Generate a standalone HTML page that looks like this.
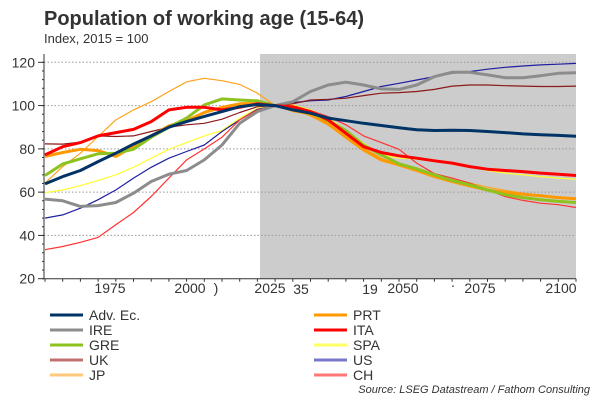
<!DOCTYPE html>
<html><head><meta charset="utf-8"><style>
body{margin:0;background:#fff;font-family:"Liberation Sans",sans-serif;}
#wrap{position:relative;width:600px;height:400px;overflow:hidden;}
</style></head><body>
<div id="wrap">
<svg id="svg" width="600" height="400" xmlns="http://www.w3.org/2000/svg">
<text x="44" y="25" font-size="20" font-weight="bold" fill="#333" font-family="Liberation Sans, sans-serif">Population of working age (15-64)</text>
<text x="44" y="43" font-size="13" fill="#333" font-family="Liberation Sans, sans-serif">Index, 2015 = 100</text>
<g id="plot"></g>
<g font-size="14" fill="#333" font-family="Liberation Sans, sans-serif" text-anchor="middle">
<text x="216" y="293">)</text>
<text x="301" y="294">35</text>
<text x="370" y="294">19</text>
<text x="453" y="290">·</text>
</g>
<text x="590" y="393" font-size="11" font-style="italic" fill="#333" text-anchor="end" font-family="Liberation Sans, sans-serif">Source: LSEG Datastream / Fathom Consulting</text>
</svg>
</div>
<script>
const years = [1950,1955,1960,1965,1970,1975,1980,1985,1990,1995,2000,2005,2010,2015,2020,2025,2030,2035,2040,2045,2050,2055,2060,2065,2070,2075,2080,2085,2090,2095,2100];
const yTicks = [20,40,60,80,100,120];
const xTickLabels = ["1975","2000","2025","2050","2075","2100"];
const xTickLabelPos = [110,190,270,403,480,561];
const advEc = [63.8,67.2,70,74.1,78,82.2,86,90,92.6,95,97.2,99.5,100.5,100,98,96.5,94.2,93,91.8,90.8,89.8,88.8,88.5,88.6,88.5,88,87.5,86.9,86.5,86.2,85.8];
const ire = [56.8,56,53.4,53.8,55.2,59.5,64.9,68.3,70,74.9,81.8,91.8,97.2,100,101.8,106.5,109.5,110.8,109.5,107.7,107.5,109.5,113.4,115.4,115.4,114.2,112.9,112.9,113.8,114.9,115.2];
const gre = [67.7,73,75.4,77.7,78,79.8,85.4,90,94.2,100.3,103.1,102.6,102.2,100,99.2,96.8,93,88.5,81.8,77.2,73.1,70.8,68,65.4,63.4,61,58.8,57.5,56.5,55.7,55.2];
const uk = [82.3,82.2,83.1,86,85.7,86,88,90,91.1,91.8,93.7,96.8,99.5,100,100.8,102.6,102.9,103.4,104.6,105.7,106,106.5,107.5,109,109.5,109.5,109.2,109,108.8,108.8,109];
const jp = [64.2,71.8,78,85.7,93.4,98,101.8,106.5,111,112.6,111.5,109.8,105.7,100,97.2,95.7,92.6,87.2,80.3,75.7,72.6,70,68,65.7,64.2,62.3,60.8,59.5,58.5,57.5,56.8];
const prt = [76.5,78.3,79.8,79.2,76.5,81,86,90.6,93,96.8,99.2,100.8,101,100,98.8,95.7,91.5,85.4,79.5,74.9,72.6,70,67.2,64.9,62.9,61,59.8,59,58.3,57.5,56.9];
const ita = [77.2,81,82.9,86,87.5,89,92.6,98,99.2,99.2,98,99.2,100.8,100,99.5,97.2,93.4,87.2,81,78.3,76.8,75.7,74.5,73.4,71.8,70.6,70,69.5,68.8,68.3,67.7];
const spa = [59.8,61,63,65.4,68,71.5,75.7,79.8,82.9,86,88.5,94.2,98.8,100,100.3,98,94.2,88.8,82.6,77.2,75.7,75.2,74.2,73,71.8,70,68.8,68,67.2,66.5,66];
const us = [48,49.5,52.6,56.5,61,66.5,71.5,75.7,78.8,81.8,88,93.4,98.3,100,101.4,102.2,102.6,104.2,106.5,108.8,110.3,111.8,113.4,114.9,115.7,116.8,117.7,118.3,118.8,119.1,119.5];
const ch = [33.4,34.9,36.8,39.1,44.9,50.6,58,66.5,74.9,80,85.4,93.4,98,100,99.5,97.7,94.9,91.1,86,82.9,79.8,73.4,68.5,66.5,64.2,61,58,56.2,54.9,54.2,52.9];
const seriesNames = ["Adv. Ec.","IRE","GRE","UK","JP","PRT","ITA","SPA","US","CH"];

const NS="http://www.w3.org/2000/svg";
const L=45,R=576,T=62.3,B=278.7,x0=1950,x1=2100,v0=20,v1=120;
function xs(y){return L+(y-x0)/(x1-x0)*(R-L);}
function ys(v){return B-(v-v0)/(v1-v0)*(B-T);}
const g=document.getElementById('plot');
function mk(tag,attrs){const e=document.createElementNS(NS,tag);for(const k in attrs)e.setAttribute(k,attrs[k]);g.appendChild(e);return e;}

const shade=mk('rect',{x:260,y:54,width:R-260,height:B-54,fill:'#cccccc'});


yTicks.forEach(v=>{
  if(v>20){const gl=mk('line',{x1:44,x2:R,y1:ys(v),y2:ys(v),stroke:'#999','stroke-dasharray':'1.5,2','stroke-width':1});
  
  }
  const t=mk('text',{x:35,y:ys(v)+5,'font-size':14,'text-anchor':'end',fill:'#333','font-family':'Liberation Sans, sans-serif'});
  t.textContent=v;
  
  
  const tk=mk('line',{x1:38,x2:44,y1:ys(v),y2:ys(v),stroke:'#333','stroke-width':1});
  
  
});
for(let v=20;v<=120;v+=4){const m=mk('line',{x1:42,x2:44,y1:ys(v),y2:ys(v),stroke:'#333','stroke-width':1});

}
const ya=mk('line',{x1:44,x2:44,y1:54,y2:B,stroke:'#333','stroke-width':1});


const xa=mk('line',{x1:44,x2:R,y1:B,y2:B,stroke:'#333','stroke-width':1});


for(let y=1950;y<=2100;y+=5){const m=mk('line',{x1:xs(y),x2:xs(y),y1:B,y2:B+3,stroke:'#333','stroke-width':1});

}
xTickLabels.forEach((s,i)=>{const t=mk('text',{x:xTickLabelPos[i],y:293,'font-size':14,'text-anchor':'middle',fill:'#333','font-family':'Liberation Sans, sans-serif'});
t.textContent=s;

});

const data=[advEc,ire,gre,uk,jp,prt,ita,spa,us,ch];
const colors=['#003366','#8c8c8c','#8dc21f','#8b1a1a','#ffa31a','#ff9900','#ff0000','#ffff33','#1f1f9f','#ff3333'];
const widths=[3,3,3,1.2,1.2,3,3,1.2,1.2,1.2];
const legColors=['#003366','#8c8c8c','#8dc21f','#c07070','#ffc87a','#ff9900','#ff0000','#ffff66','#7777cc','#ff7777'];
const order=[4,7,8,9,3,1,5,2,6,0];
order.forEach(i=>{
  const d=data[i].map((v,k)=>(k?'L':'M')+xs(years[k]).toFixed(1)+','+ys(v).toFixed(1)).join('');
  const p=mk('path',{d:d,fill:'none',stroke:colors[i],'stroke-width':widths[i],'stroke-linejoin':'round'});
  
  
});
seriesNames.forEach((n,i)=>{
  const col=i<5?0:1,row=i%5;
  const lx=col?314:50,ly=315+row*15;
  const ln=mk('line',{x1:lx,x2:lx+33,y1:ly,y2:ly,stroke:legColors[i],'stroke-width':3});
  
  
  const t=mk('text',{x:lx+39,y:ly+5,'font-size':14,fill:'#333','font-family':'Liberation Sans, sans-serif'});
  t.textContent=n;
  
  
});
</script>
</body></html>
